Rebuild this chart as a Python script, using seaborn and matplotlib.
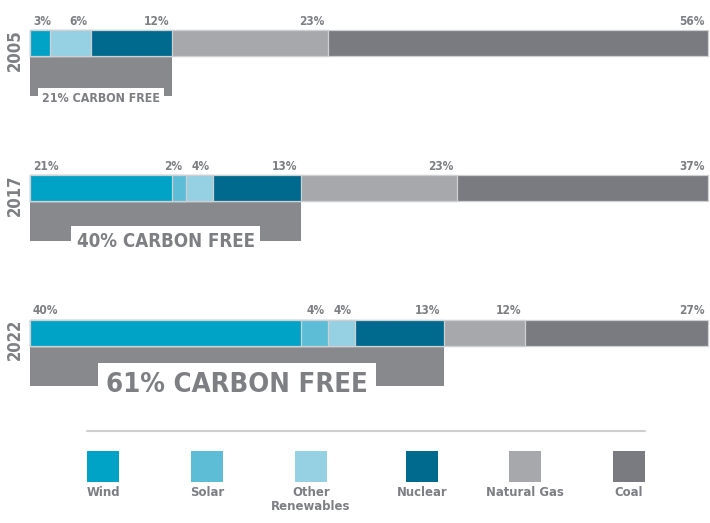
import numpy as np
import pandas as pd
import seaborn as sns
import matplotlib.pyplot as plt
from matplotlib.patches import Rectangle

# data
years = ['2005', '2017', '2022']
sources = ['Wind', 'Solar', 'Other\nRenewables', 'Nuclear', 'Natural Gas', 'Coal']
wind = [3, 21, 40]
solar = [0, 2, 4]
other = [6, 4, 4]
nuclear = [12, 13, 13]
gas = [23, 23, 12]
coal = [56, 37, 27]
carbon_free_label = ['21% CARBON FREE', '40% CARBON FREE', '61% CARBON FREE']

colors = ['#00a3c6', '#5dbdd7', '#95d0e3', '#006a8e', '#a6a8ac', '#797b80']
grey_txt = '#7d7f83'
bracket_col = '#88898d'

sns.set_style('white')
plt.rcParams['font.family'] = ['DejaVu Sans']
plt.rcParams['font.stretch'] = 'condensed'
plt.rcParams['font.weight'] = 'bold'

rows = []
for i, y in enumerate(years):
    vals = [wind[i], solar[i], other[i], nuclear[i], gas[i], coal[i]]
    cum = np.cumsum(vals)
    for s, v, c in zip(sources, vals, cum):
        rows.append({'year': y, 'source': s, 'value': v, 'cum': c})
df = pd.DataFrame(rows)

W, H = 710, 523
fig = plt.figure(figsize=(W / 100, H / 100), dpi=100)
ax = fig.add_axes([0, 0, 1, 1])

# pixel mapping: bar spans x 30..708, category spacing ~145px
px_per_pct = 678 / 100
px_per_cat = 144.75
y0_px = 43
bar_h = 26 / px_per_cat

# stacked bars: draw cumulative totals from the outside in
for s, col in reversed(list(zip(sources, colors))):
    sub = df[df['source'] == s]
    sns.barplot(data=sub, x='cum', y='year', order=years, orient='h',
                color=col, width=bar_h, edgecolor='#cfd0d2', linewidth=0.9,
                saturation=1, ax=ax)

ax.set_xlim(-30 / px_per_pct, 100 + 2 / px_per_pct)
ax.set_ylim((H - y0_px) / px_per_cat, -y0_px / px_per_cat)
ax.axis('off')

dy = 1 / px_per_cat
text_sizes = [8.9, 13.4, 19.7]
for i, y in enumerate(years):
    sub = df[df['year'] == y]
    top = i - bar_h / 2
    bottom = i + bar_h / 2
    first = True
    for _, r in sub.iterrows():
        if r['value'] <= 0:
            continue
        if first:
            ax.text(r['cum'] - r['value'] + 0.45, top - 5 * dy, f"{r['value']}%",
                    ha='left', va='baseline', fontsize=8.6, color=grey_txt)
            first = False
        else:
            ax.text(r['cum'] - 0.5, top - 5 * dy, f"{r['value']}%",
                    ha='right', va='baseline', fontsize=8.6, color=grey_txt)
    # year label
    ax.text(-15 / px_per_pct, i + 7 * dy, y, rotation=90, ha='center', va='center',
            fontsize=12, color=grey_txt)
    # carbon free bracket
    cf = wind[i] + solar[i] + other[i] + nuclear[i]
    depth = 40 * dy
    ax.add_patch(Rectangle((0, bottom), cf, depth, facecolor=bracket_col,
                           edgecolor='none', zorder=0.5))
    ax.text(cf / 2, bottom + depth + 6 * dy, carbon_free_label[i], ha='center',
            va='baseline', fontsize=text_sizes[i], color=grey_txt, zorder=3,
            bbox=dict(boxstyle='square,pad=0.3', facecolor='white', edgecolor='none'))

# legend
lax = fig.add_axes([0, 0, 1, 1], zorder=-1)
lax.set_xlim(0, W)
lax.set_ylim(H, 0)
lax.axis('off')
lax.plot([87, 645], [431, 431], color='#cfcfd1', lw=1.5)
leg_x = [87, 191, 295, 406, 509, 613]
for x, s, col in zip(leg_x, sources, colors):
    lax.add_patch(Rectangle((x, 451), 32, 31, facecolor=col, edgecolor='none'))
    lax.text(x + 16, 486, s, ha='center', va='top', fontsize=9.4,
             color=grey_txt, linespacing=1.15)

fig.savefig('out.png', dpi=100)
